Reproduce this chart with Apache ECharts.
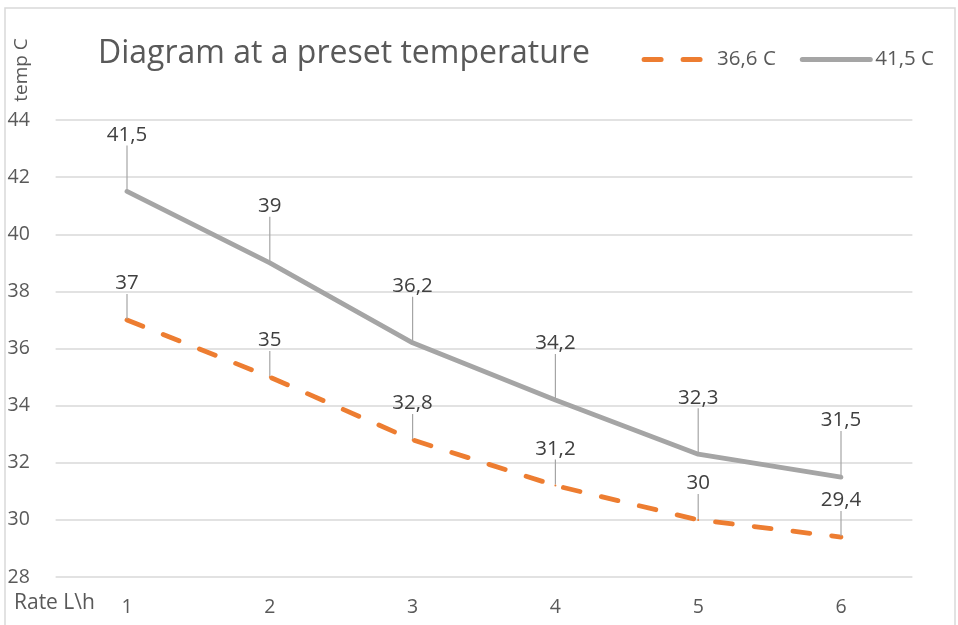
<!DOCTYPE html>
<html><head><meta charset="utf-8">
<script src="https://cdn.jsdelivr.net/npm/echarts@6/dist/echarts.min.js"></script>
<style>html,body{margin:0;padding:0;background:#fff}#c{width:958px;height:625px}</style>
</head><body><div id="c"></div>
<script>
const categories = ['1','2','3','4','5','6'];
const series366 = [37, 35, 32.8, 31.2, 30, 29.4];
const series415 = [41.5, 39, 36.2, 34.2, 32.3, 31.5];
const seriesNames = ['36,6 C', '41,5 C'];
const titleText = 'Diagram at a preset temperature';
const yName = 'temp C';
const xName = 'Rate L\\h';

const FONT = '"Open Sans", "Noto Sans", sans-serif';
const fmt = p => String(p.value).replace('.', ',');
const chart = echarts.init(document.getElementById('c'));
chart.setOption({
  animation: false,
  textStyle: { fontFamily: FONT },
  title: { text: titleText, left: 93, top: 33, textStyle: { fontFamily: FONT, fontSize: 32, fontWeight: 'normal', color: '#595959' } },
  legend: {
    right: 19, top: 44, itemWidth: 68, itemHeight: 14, itemGap: 24,
    itemStyle: { opacity: 0 },
    lineStyle: { width: 5, cap: 'round' },
    textStyle: { fontFamily: FONT, fontSize: 20.5, color: '#595959' },
    data: seriesNames
  },
  grid: { left: 55.6, right: 45.6, top: 120, bottom: 48 },
  xAxis: {
    type: 'category', data: categories, boundaryGap: true,
    axisLine: { show: false }, axisTick: { show: false },
    axisLabel: { fontFamily: FONT, fontSize: 19.5, color: '#595959', margin: 20 }
  },
  yAxis: {
    type: 'value', min: 28, max: 44, interval: 2,
    axisLine: { show: false }, axisTick: { show: false },
    splitLine: { lineStyle: { color: '#d9d9d9', width: 1.5 } },
    axisLabel: { fontFamily: FONT, fontSize: 19.5, color: '#595959', align: 'left', margin: 48 }
  },
  graphic: [
    { type: 'rect', shape: { x: 5, y: 8, width: 950, height: 640 }, style: { fill: 'none', stroke: '#d9d9d9', lineWidth: 1.5 }, silent: true },
    { type: 'text', x: 22, y: 70, rotation: Math.PI / 2, style: { text: yName, font: '19px ' + FONT, fill: '#595959', align: 'center', verticalAlign: 'middle' } },
    { type: 'text', x: 14, y: 603, style: { text: xName, font: '21px ' + FONT, fill: '#595959', align: 'left', verticalAlign: 'middle' } }
  ],
  series: [
    {
      name: seriesNames[0], type: 'line', data: series366, symbol: 'circle', symbolSize: 2, showSymbol: true,
      lineStyle: { color: '#ED7D31', width: 4.8, type: [17, 22], cap: 'round' },
      itemStyle: { color: '#ED7D31' },
      label: { show: true, position: 'top', distance: 5, formatter: fmt, fontFamily: FONT, fontSize: 20.5, color: '#404040' },
      labelLayout: { dy: -20 },
      labelLine: { show: true, lineStyle: { color: '#a5a5a5', width: 1.2 } },
      z: 3
    },
    {
      name: seriesNames[1], type: 'line', data: series415, symbol: 'circle', symbolSize: 2, showSymbol: true,
      lineStyle: { color: '#A5A5A5', width: 4.8, cap: 'round' },
      itemStyle: { color: '#A5A5A5' },
      label: { show: true, position: 'top', distance: 5, formatter: fmt, fontFamily: FONT, fontSize: 20.5, color: '#404040' },
      labelLayout: { dy: -40 },
      labelLine: { show: true, lineStyle: { color: '#a5a5a5', width: 1.2 } },
      z: 2
    }
  ]
});
</script></body></html>
